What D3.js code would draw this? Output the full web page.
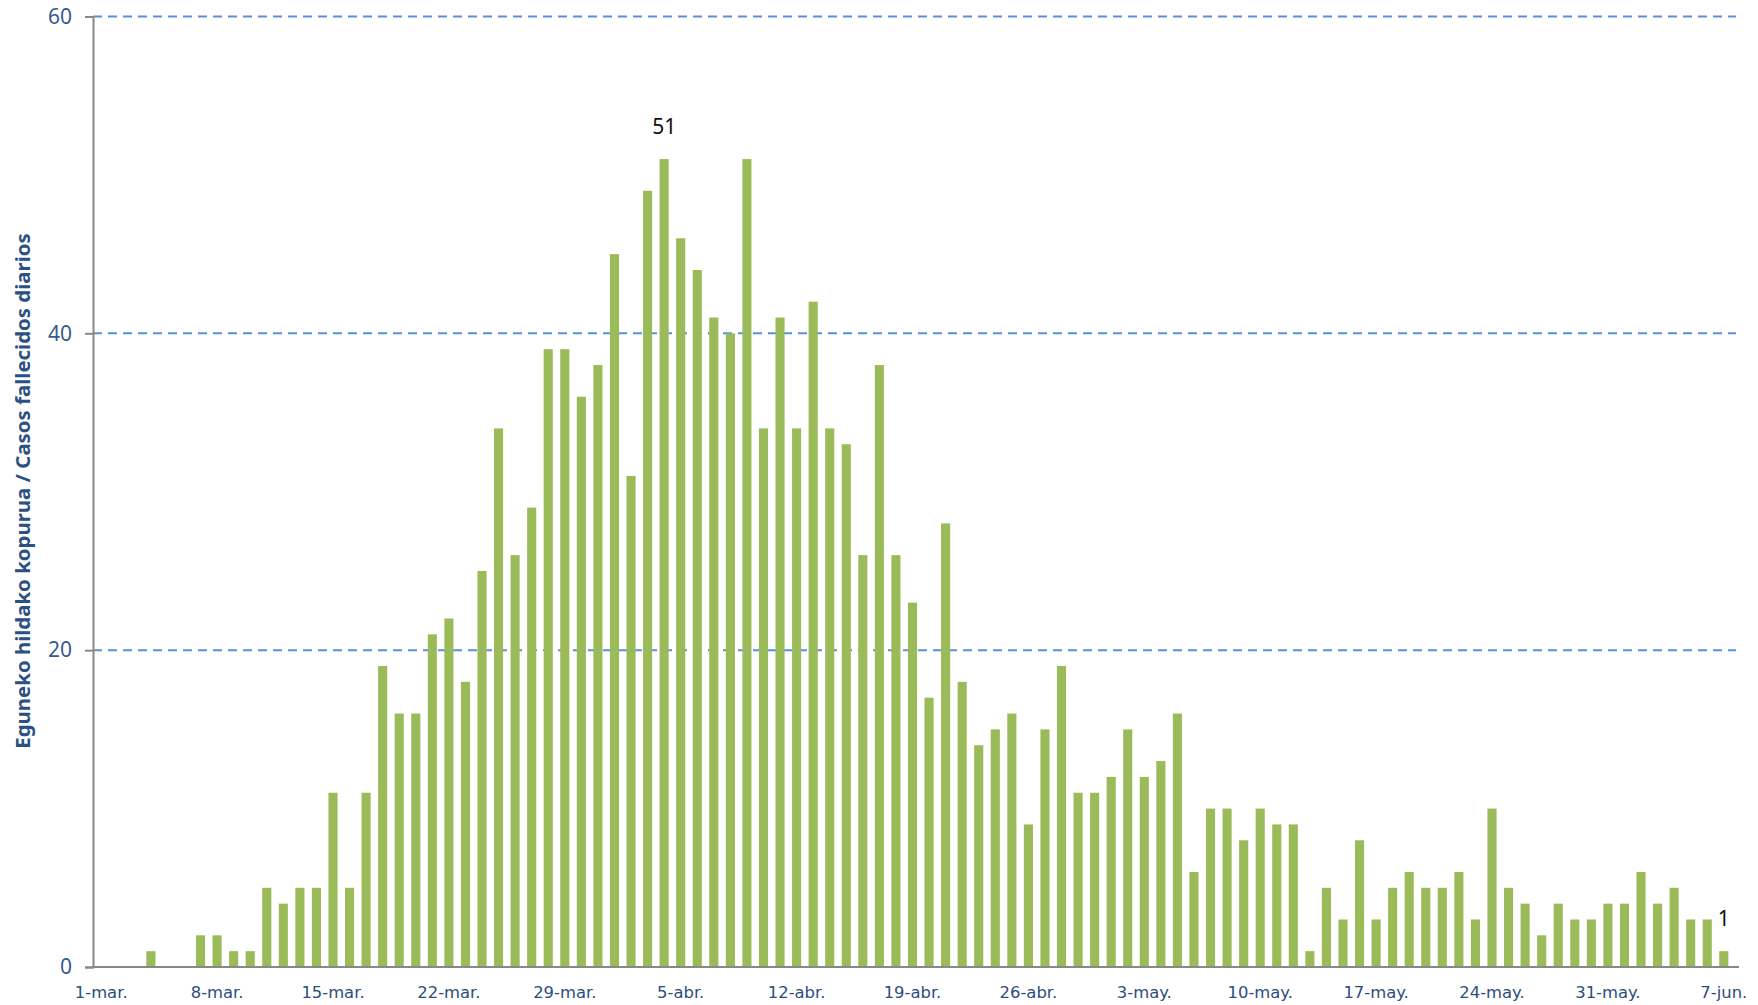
<!DOCTYPE html>
<html>
<head>
<meta charset="utf-8">
<script src="https://cdn.jsdelivr.net/npm/d3@7"></script>
<style>
  body { margin: 0; background: #fff; }
  .axis--x text { font-family: "DejaVu Sans", sans-serif; font-size: 16.4px; fill: #2E4D7B; }
  .axis--y text { font-family: "Noto Sans", sans-serif; font-size: 21px; fill: #3A5A8C; }
</style>
</head>
<body>
<svg width="1758" height="1005"></svg>
<script>
// daily deaths, 1-mar .. 7-jun
var months = ["mar.", "abr.", "may.", "jun."];
var monthDays = [31, 30, 31, 7];
var deaths = [
  0, 0, 0, 1, 0, 0, 2, 2, 1, 1, 5, 4, 5, 5, 11, 5, 11, 19, 16, 16, 21, 22, 18, 25, 34, 26, 29, 39, 39, 36, 38,
  45, 31, 49, 51, 46, 44, 41, 40, 51, 34, 41, 34, 42, 34, 33, 26, 38, 26, 23, 17, 28, 18, 14, 15, 16, 9, 15, 19, 11, 11,
  12, 15, 12, 13, 16, 6, 10, 10, 8, 10, 9, 9, 1, 5, 3, 8, 3, 5, 6, 5, 5, 6, 3, 10, 5, 4, 2, 4, 3, 3, 4, 4,
  6, 4, 5, 3, 3, 1
];
var yTicks = [0, 20, 40, 60];
var labelled = ["4-abr.", "7-jun."];
var yTitle = "Eguneko hildako kopurua / Casos fallecidos diarios";

var days = [];
months.forEach(function(m, i) {
  for (var d = 1; d <= monthDays[i]; d++) days.push(d + "-" + m);
});
var data = days.map(function(d, i) { return {day: d, value: deaths[i]}; });

var svg = d3.select("svg");
var m = {left: 93, right: 1732, top: 16.5, bottom: 967};

var x = d3.scaleBand().domain(days).range([m.left, m.right]).paddingInner(0.45).paddingOuter(0.22);
var y = d3.scaleLinear().domain([0, 60]).range([m.bottom, m.top]);

// dashed gridlines
svg.append("g")
  .selectAll("line")
  .data(yTicks.filter(function(t) { return t > 0; }))
  .enter().append("line")
    .attr("x1", m.left)
    .attr("x2", 1736)
    .attr("y1", function(d) { return y(d); })
    .attr("y2", function(d) { return y(d); })
    .attr("stroke", "#5B8FD9")
    .attr("stroke-width", 2)
    .attr("stroke-dasharray", "9,6");

svg.selectAll(".bar")
  .data(data)
  .enter().append("rect")
    .attr("class", "bar")
    .attr("x", function(d) { return x(d.day); })
    .attr("y", function(d) { return y(d.value); })
    .attr("width", x.bandwidth())
    .attr("height", function(d) { return m.bottom - y(d.value); })
    .attr("fill", "#9BBB59");

// y axis
var yAxis = svg.append("g")
  .attr("class", "axis axis--y")
  .attr("transform", "translate(" + m.left + ",0)")
  .call(d3.axisLeft(y).tickValues(yTicks).tickSize(8).tickPadding(13));
yAxis.select(".domain").attr("stroke", "#888").attr("stroke-width", 2);
yAxis.selectAll(".tick line").attr("stroke", "#888").attr("stroke-width", 2);

// x axis, a label every 7 days
var xAxis = svg.append("g")
  .attr("class", "axis axis--x")
  .attr("transform", "translate(0," + m.bottom + ")")
  .call(d3.axisBottom(x)
    .tickValues(days.filter(function(d, i) { return i % 7 === 0; }))
    .tickSize(0).tickPadding(19));
xAxis.select(".domain").attr("d", "M" + m.left + ",0H1739").attr("stroke", "#888").attr("stroke-width", 2);

// data labels
svg.selectAll(".lbl")
  .data(data.filter(function(d) { return labelled.indexOf(d.day) >= 0; }))
  .enter().append("text")
    .attr("class", "lbl")
    .attr("x", function(d) { return x(d.day) + x.bandwidth() / 2; })
    .attr("y", function(d) { return y(d.value) - 25; })
    .attr("text-anchor", "middle")
    .attr("font-family", "Noto Sans, sans-serif")
    .attr("font-size", 21)
    .attr("fill", "#111")
    .text(function(d) { return d.value; });

svg.append("text")
  .attr("transform", "translate(30,491) rotate(-90)")
  .attr("text-anchor", "middle")
  .attr("font-family", "Noto Sans, sans-serif")
  .attr("font-weight", "bold")
  .attr("font-size", 20.4)
  .attr("fill", "#2B5083")
  .text(yTitle);
</script>
</body>
</html>
